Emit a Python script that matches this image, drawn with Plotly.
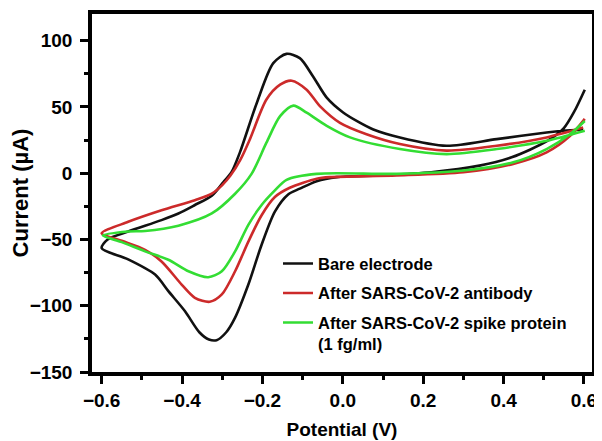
import plotly.graph_objects as go

# Bare electrode: return sweep (0.6 -> -0.6), then forward sweep (-0.6 -> 0.6)
bare_v_rev = [0.602, 0.575, 0.55, 0.51, 0.42, 0.34, 0.22, 0.09, -0.015, -0.065, -0.107, -0.136,
              -0.169, -0.202, -0.235, -0.268, -0.29, -0.314, -0.333, -0.357, -0.393, -0.434, -0.467,
              -0.534, -0.60]
bare_i_rev = [63, 46, 34, 24.5, 12, 5.7, 0.7, -1.7, -3, -6, -11.7, -16,
              -29, -54, -84, -109, -120, -126, -125.5, -120, -104, -89, -76.5,
              -65, -56.6]
bare_v_fwd = [-0.585, -0.534, -0.451, -0.409, -0.368, -0.326, -0.297, -0.277, -0.256, -0.214, -0.173,
              -0.14, -0.107, -0.074, -0.04, 0.0, 0.04, 0.076, 0.142, 0.258, 0.383, 0.507, 0.548, 0.598]
bare_i_fwd = [-50, -44, -35.4, -30.4, -24, -17, -6.7, 0.7, 15.7, 53, 83,
              90, 86.8, 73, 57, 46, 38.5, 33, 27, 20.7, 25.7, 30.7, 32, 33]

# After SARS-CoV-2 antibody
ab_v_rev = [0.602, 0.565, 0.507, 0.424, 0.30, 0.134, -0.032, -0.065, -0.132, -0.169, -0.202, -0.235,
            -0.268, -0.301, -0.331, -0.368, -0.401, -0.451, -0.492, -0.55, -0.60]
ab_i_rev = [41, 28, 15.7, 7, 0.7, -1.7, -3, -4.2, -11, -18, -31.7, -51.6,
            -74, -91.5, -97, -94, -84, -66.6, -57.8, -51, -45.4]
ab_v_fwd = [-0.534, -0.451, -0.368, -0.326, -0.30, -0.28, -0.255, -0.231, -0.19, -0.156, -0.127,
            -0.09, -0.057, -0.007, 0.059, 0.142, 0.258, 0.383, 0.507, 0.598]
ab_i_fwd = [-36.7, -28, -20.4, -15.5, -9, -2, 10, 25.7, 55.6, 66.8, 69.8,
            63, 50.6, 38, 29.4, 22, 17, 20.7, 27, 34.4]

# After SARS-CoV-2 spike protein (1 fg/ml)
sp_v_rev = [0.602, 0.565, 0.507, 0.424, 0.30, 0.134, -0.065, -0.14, -0.169, -0.202, -0.235, -0.268,
            -0.301, -0.335, -0.384, -0.434, -0.492, -0.55, -0.597]
sp_i_rev = [39.4, 29.4, 18.2, 8.2, 2, -0.5, -0.5, -5, -13, -24, -39, -59,
            -74, -78.5, -74, -65.3, -59, -52, -47]
sp_v_fwd = [-0.534, -0.492, -0.409, -0.326, -0.268, -0.227, -0.19, -0.156, -0.123, -0.09, -0.04,
            0.018, 0.142, 0.258, 0.383, 0.507, 0.602]
sp_i_fwd = [-44, -43.6, -39.6, -30.4, -15.5, -0.5, 23, 43, 51, 45.6, 35.7,
            27, 18.2, 14.4, 18.2, 24.4, 32]

names = ["Bare electrode", "After SARS-CoV-2 antibody",
         "After SARS-CoV-2 spike protein<br>(1 fg/ml)"]
colors = ["#111111", "#cc2a2a", "#33dd33"]

x_ticks = [-0.6, -0.4, -0.2, 0.0, 0.2, 0.4, 0.6]
x_ticktext = ["\u22120.6", "\u22120.4", "\u22120.2", "0.0", "0.2", "0.4", "0.6"]
x_minor = [-0.5, -0.3, -0.1, 0.1, 0.3, 0.5]
y_ticks = [-150, -100, -50, 0, 50, 100]
y_minor = [-125, -75, -25, 25, 75]

FONT = "Liberation Sans, Arial, sans-serif"

fig = go.Figure()
curves = [(bare_v_rev + bare_v_fwd, bare_i_rev + bare_i_fwd),
          (ab_v_rev + ab_v_fwd, ab_i_rev + ab_i_fwd),
          (sp_v_rev + sp_v_fwd, sp_i_rev + sp_i_fwd)]
for k, (v, i) in enumerate(curves):
    fig.add_trace(go.Scatter(x=v, y=i, mode="lines", name=names[k],
                             legendgroup=str(k),
                             line=dict(color=colors[k], width=2.6, shape="spline", smoothing=0.8)))

axis_common = dict(showline=True, linewidth=3.5, linecolor="black", mirror=True,
                   ticks="outside", ticklen=8, tickwidth=3, tickcolor="black",
                   showgrid=False, zeroline=False,
                   tickfont=dict(family=FONT, size=19, color="black", weight="bold"))

# page body adds an 8px offset, so the figure is a bit smaller than the window
fig.update_layout(
    width=594, height=433,
    margin=dict(l=84, r=10, t=2, b=69),
    paper_bgcolor="white", plot_bgcolor="white",
    font=dict(family=FONT, color="black"),
    showlegend=True,
    legend=dict(x=0.372, y=0.351, xanchor="left", yanchor="top",
                bgcolor="rgba(0,0,0,0)", tracegroupgap=5, valign="top",
                font=dict(family=FONT, size=16.5, color="black", weight="bold")),
    xaxis=dict(range=[-0.624, 0.62], tickvals=x_ticks, ticktext=x_ticktext,
               minor=dict(tickvals=x_minor, ticklen=4, tickwidth=3,
                          ticks="outside", tickcolor="black"),
               title=dict(text="Potential (V)", standoff=14,
                          font=dict(family=FONT, size=19, color="black", weight="bold")),
               **axis_common),
    yaxis=dict(range=[-150, 120.1], tickvals=y_ticks, ticklabelstandoff=4,
               minor=dict(tickvals=y_minor, ticklen=4, tickwidth=3,
                          ticks="outside", tickcolor="black"),
               title=dict(text="Current (\u00b5A)", standoff=1,
                          font=dict(family=FONT, size=22, color="black", weight="bold")),
               **axis_common),
)

fig.write_html("out.html")
